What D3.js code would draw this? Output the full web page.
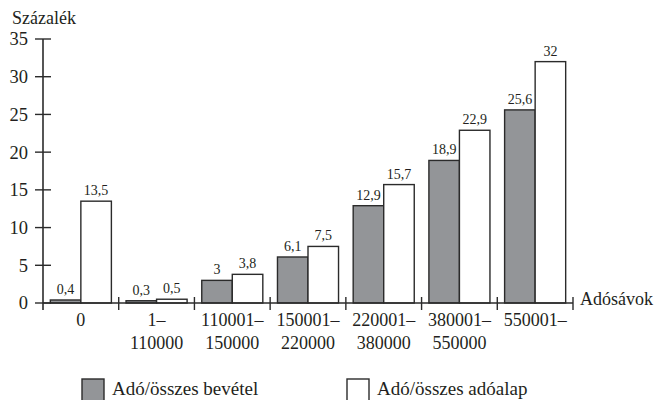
<!DOCTYPE html>
<html><head><meta charset="utf-8">
<script src="https://cdn.jsdelivr.net/npm/d3@7"></script>
<style>body{margin:0;background:#fff}svg{display:block}text{font-family:"Liberation Serif","Times New Roman",serif;fill:#231f20}</style>
</head><body><svg id="c" width="657" height="400"></svg>
<script>
const categories = [["0"],["1–","110000"],["110001–","150000"],["150001–","220000"],["220001–","380000"],["380001–","550000"],["550001–"]];
const bevetel = [0.4, 0.3, 3, 6.1, 12.9, 18.9, 25.6];
const adoalap = [13.5, 0.5, 3.8, 7.5, 15.7, 22.9, 32];
const yTicks = [0,5,10,15,20,25,30,35];
const seriesNames = ["Adó/összes bevétel","Adó/összes adóalap"];
const fmt = v => String(v).replace(".", ",");

const svg = d3.select("#c");
const ink = "#2b2b2b";
const x = d3.scaleBand().domain(d3.range(categories.length)).range([43, 573]);
const xs = d3.scaleBand().domain([0,1]).range([0, x.bandwidth()]).paddingInner(0).paddingOuter(0.24);
const y = d3.scaleLinear().domain([0,35]).range([303, 39]);

const colors = ["#939598", "#ffffff"];
const data = [bevetel, adoalap];

// bars
data.forEach((vals, s) => {
  svg.append("g").selectAll("rect").data(vals).join("rect")
    .attr("x", (d,i) => x(i) + xs(s))
    .attr("y", d => y(d))
    .attr("width", xs.bandwidth())
    .attr("height", d => y(0) - y(d))
    .attr("fill", colors[s]).attr("stroke", ink).attr("stroke-width", 1.4);
  svg.append("g").selectAll("text").data(vals).join("text")
    .attr("x", (d,i) => x(i) + xs(s) + xs.bandwidth()/2)
    .attr("y", d => y(d) - 6)
    .attr("text-anchor", "middle").attr("font-size", 14)
    .text(d => fmt(d));
});

// y axis
svg.append("line").attr("x1",43).attr("x2",43).attr("y1",y(35)).attr("y2",310).attr("stroke",ink).attr("stroke-width",1.6);
const yt = svg.append("g").selectAll("g").data(yTicks).join("g");
yt.append("line").attr("x1",35).attr("x2",51).attr("y1",d=>y(d)).attr("y2",d=>y(d)).attr("stroke",ink).attr("stroke-width",1.4);
yt.append("text").attr("x",28).attr("y",d=>y(d)).attr("dy","0.35em").attr("text-anchor","end").attr("font-size",18.5).text(d=>d);

// x axis
svg.append("line").attr("x1",43).attr("x2",573).attr("y1",y(0)).attr("y2",y(0)).attr("stroke",ink).attr("stroke-width",1.6);
const bounds = d3.range(1, categories.length+1).map(i => x(0) + i*x.step());
svg.append("g").selectAll("line").data(bounds).join("line")
  .attr("x1",d=>d).attr("x2",d=>d).attr("y1",297).attr("y2",310).attr("stroke",ink).attr("stroke-width",1.4);
const cl = svg.append("g").selectAll("text").data(categories).join("text")
  .attr("text-anchor","middle").attr("font-size",18);
cl.selectAll("tspan").data((d,i)=>d.map(t=>({t,i}))).join("tspan")
  .attr("x", d => x(d.i) + x.bandwidth()/2)
  .attr("y", (d,j) => 326 + j*23)
  .text(d => d.t);

svg.append("text").attr("x",12).attr("y",24).attr("font-size",18).text("Százalék");
svg.append("text").attr("x",580).attr("y",305).attr("font-size",18).text("Adósávok");

// legend
const lg = [{x:82, tx:112},{x:347, tx:377}];
lg.forEach((p,s) => {
  svg.append("rect").attr("x",p.x).attr("y",379).attr("width",22).attr("height",24)
    .attr("fill",colors[s]).attr("stroke",ink).attr("stroke-width",1.4);
  svg.append("text").attr("x",p.tx).attr("y",395).attr("font-size",19).text(seriesNames[s]);
});
</script></body></html>
